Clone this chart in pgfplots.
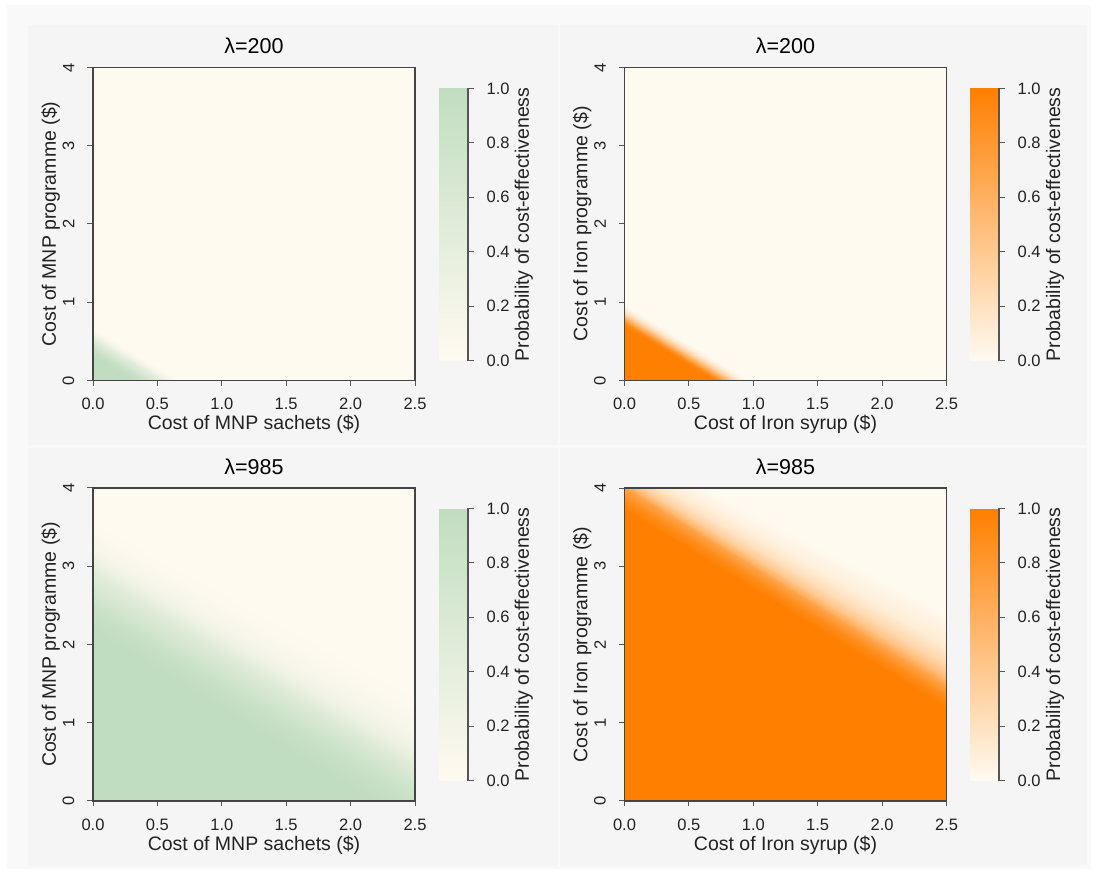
\documentclass[border=0pt]{standalone}
\usepackage{fontspec}
\setmainfont{Liberation Sans}
\usepackage{pgfplots}
\pgfplotsset{compat=1.18}
\definecolor{axisgray}{HTML}{444444}
\definecolor{tickgray}{HTML}{555555}
\definecolor{txt}{HTML}{222222}
\definecolor{framebg}{HTML}{F9F9F9}
\definecolor{panelbg}{HTML}{F5F5F5}
\definecolor{cream}{RGB}{255,250,240}
\newcommand\ticksize{\fontsize{16.5}{19}\selectfont}
\newcommand\labelsize{\fontsize{19.5}{22}\selectfont}
\newcommand\titlesize{\fontsize{21.5}{24}\selectfont}
\pgfplotsset{
  panel/.style={
    scale only axis, width=322pt, height=313pt,
    axis on top=true,
    xmin=0, xmax=2.5, ymin=0, ymax=4,
    xtick={0,0.5,1,1.5,2,2.5}, ytick={0,1,2,3,4},
    xtick pos=left, ytick pos=left,
    tick align=outside, major tick length=5.5pt,
    axis line style={draw=axisgray, line width=1.2pt},
    every tick/.style={tickgray, line width=1pt},
    axis background/.style={fill=cream},
    xticklabel style={font=\ticksize, text=txt, anchor=north, inner sep=0pt, yshift=-12pt, /pgf/number format/.cd, fixed, fixed zerofill, precision=1, assume math mode=true},
    yticklabel style={font=\ticksize, text=txt, rotate=90, anchor=south, inner xsep=0pt, inner ysep=13pt, /pgf/number format/assume math mode=true},
    title style={font=\titlesize, text=black, at={(axis description cs:0.5,1.024)}, anchor=base},
    xlabel style={font=\labelsize, text=txt, at={(axis description cs:0.5,-0.158)}, anchor=base},
    ylabel style={font=\labelsize, text=txt, at={(axis description cs:-0.115,0.5)}, anchor=base},
    point meta min=0, point meta max=1,
  },
  cbar/.style={
    scale only axis, width=28pt, height=272pt,
    axis on top=true,
    xmin=0, xmax=1, ymin=0, ymax=1,
    axis x line=none, axis y line*=right,
    axis line style={draw=tickgray, line width=1pt},
    every tick/.style={tickgray, line width=1pt},
    tick align=outside, major tick length=6.5pt,
    xtick=\empty,
    ytick={0,0.2,0.4,0.6,0.8,1},
    yticklabel pos=right,
    yticklabel style={font=\ticksize, text=txt, anchor=west, inner sep=0pt, xshift=13pt, /pgf/number format/.cd, fixed, fixed zerofill, precision=1, assume math mode=true},
    ylabel={Probability of cost-effectiveness},
    ylabel style={font=\labelsize, text=txt, at={(axis description cs:3.214,0.5)}, anchor=base},
    point meta min=0, point meta max=1,
    extra description/.code={\draw[tickgray, line width=1pt] ([xshift=1.5pt]rel axis cs:1,0) -- ([xshift=1.5pt]rel axis cs:1,1);},
  },
  greenmap/.style={colormap={gm}{rgb255=(255,250,240) rgb255=(193,221,193)}},
  orangemap/.style={colormap={om}{rgb255=(255,250,240) rgb255=(255,127,0)}},
  heat/.style={patch, patch type=rectangle, shader=interp, point meta=explicit},
}
\pgfplotstableread{
x y c
0 0 0
1 0 0
1 1 1
0 1 1
}\cbartable
\begin{document}
\begin{tikzpicture}
\fill[white] (0pt,0pt) rectangle (1101pt,879pt);
\fill[framebg] (7pt,10pt) rectangle (1091pt,874pt);
\fill[panelbg] (28pt,433.5pt) rectangle (557.5pt,854pt);
\fill[panelbg] (560pt,433.5pt) rectangle (1087pt,854pt);
\fill[panelbg] (28pt,13pt) rectangle (557.5pt,431pt);
\fill[panelbg] (560pt,13pt) rectangle (1087pt,431pt);

% Panel 1: MNP, lambda=200
\begin{axis}[panel, greenmap, at={(93pt,498.5pt)}, anchor=south west,
  title={λ=200}, xlabel={Cost of MNP sachets (\$)}, ylabel={Cost of MNP programme (\$)}]
\addplot[heat] table[meta=c] {
x y c
0 -3 1
2.5 -3 1
2.5 -2.18 1
0 0.32 1
0 0.32 1
2.5 -2.18 1
2.5 -2.11 0.9
0 0.39 0.9
0 0.39 0.9
2.5 -2.11 0.9
2.5 -2.05 0.7
0 0.45 0.7
0 0.45 0.7
2.5 -2.05 0.7
2.5 -1.98 0.5
0 0.52 0.5
0 0.52 0.5
2.5 -1.98 0.5
2.5 -1.93 0.3
0 0.57 0.3
0 0.57 0.3
2.5 -1.93 0.3
2.5 -1.88 0.12
0 0.62 0.12
0 0.62 0.12
2.5 -1.88 0.12
2.5 -1.81 0
0 0.69 0
0 0.69 0
2.5 -1.81 0
2.5 5 0
0 5 0
};
\end{axis}
\begin{axis}[cbar, greenmap, at={(439pt,518.5pt)}, anchor=south west]
\addplot[heat] table[meta=c] {\cbartable};
\end{axis}

% Panel 2: Iron, lambda=200
\begin{axis}[panel, orangemap, at={(624.5pt,498.5pt)}, anchor=south west,
  title={λ=200}, xlabel={Cost of Iron syrup (\$)}, ylabel={Cost of Iron programme (\$)}]
\addplot[heat] table[meta=c] {
x y c
0 -3 1
2.5 -3 1
2.5 -1.81 1
0 0.69 1
0 0.69 1
2.5 -1.81 1
2.5 -1.77 0.9
0 0.73 0.9
0 0.73 0.9
2.5 -1.77 0.9
2.5 -1.73 0.7
0 0.77 0.7
0 0.77 0.7
2.5 -1.73 0.7
2.5 -1.69 0.5
0 0.81 0.5
0 0.81 0.5
2.5 -1.69 0.5
2.5 -1.65 0.3
0 0.85 0.3
0 0.85 0.3
2.5 -1.65 0.3
2.5 -1.60 0.12
0 0.90 0.12
0 0.90 0.12
2.5 -1.60 0.12
2.5 -1.53 0
0 0.97 0
0 0.97 0
2.5 -1.53 0
2.5 5 0
0 5 0
};
\end{axis}
\begin{axis}[cbar, orangemap, at={(970pt,518.5pt)}, anchor=south west]
\addplot[heat] table[meta=c] {\cbartable};
\end{axis}

% Panel 3: MNP, lambda=985
\begin{axis}[panel, greenmap, at={(93pt,78pt)}, anchor=south west,
  title={λ=985}, xlabel={Cost of MNP sachets (\$)}, ylabel={Cost of MNP programme (\$)}]
\addplot[heat] table[meta=c] {
x y c
0 -3 1
2.5 -3 1
2.5 -0.32 1
0 2.20 1
0 2.20 1
2.5 -0.32 1
2.5 -0.02 0.9
0 2.45 0.9
0 2.45 0.9
2.5 -0.02 0.9
2.5 0.23 0.7
0 2.65 0.7
0 2.65 0.7
2.5 0.23 0.7
2.5 0.43 0.5
0 2.90 0.5
0 2.90 0.5
2.5 0.43 0.5
2.5 0.60 0.3
0 3.05 0.3
0 3.05 0.3
2.5 0.60 0.3
2.5 0.88 0.12
0 3.25 0.12
0 3.25 0.12
2.5 0.88 0.12
2.5 1.38 0
0 3.60 0
0 3.60 0
2.5 1.38 0
2.5 6 0
0 6 0
};
\end{axis}
\begin{axis}[cbar, greenmap, at={(439pt,98.5pt)}, anchor=south west]
\addplot[heat] table[meta=c] {\cbartable};
\end{axis}

% Panel 4: Iron, lambda=985
\begin{axis}[panel, orangemap, at={(624.5pt,78pt)}, anchor=south west,
  title={λ=985}, xlabel={Cost of Iron syrup (\$)}, ylabel={Cost of Iron programme (\$)}]
\addplot[heat] table[meta=c] {
x y c
0 -3 1
2.5 -3 1
2.5 1.17 1
0 3.70 1
0 3.70 1
2.5 1.17 1
2.5 1.32 0.9
0 3.85 0.9
0 3.85 0.9
2.5 1.32 0.9
2.5 1.47 0.7
0 4.00 0.7
0 4.00 0.7
2.5 1.47 0.7
2.5 1.57 0.5
0 4.06 0.5
0 4.06 0.5
2.5 1.57 0.5
2.5 1.72 0.3
0 4.15 0.3
0 4.15 0.3
2.5 1.72 0.3
2.5 1.97 0.12
0 4.30 0.12
0 4.30 0.12
2.5 1.97 0.12
2.5 2.42 0
0 4.55 0
0 4.55 0
2.5 2.42 0
2.5 6 0
0 6 0
};
\end{axis}
\begin{axis}[cbar, orangemap, at={(970pt,98.5pt)}, anchor=south west]
\addplot[heat] table[meta=c] {\cbartable};
\end{axis}
\end{tikzpicture}
\end{document}
